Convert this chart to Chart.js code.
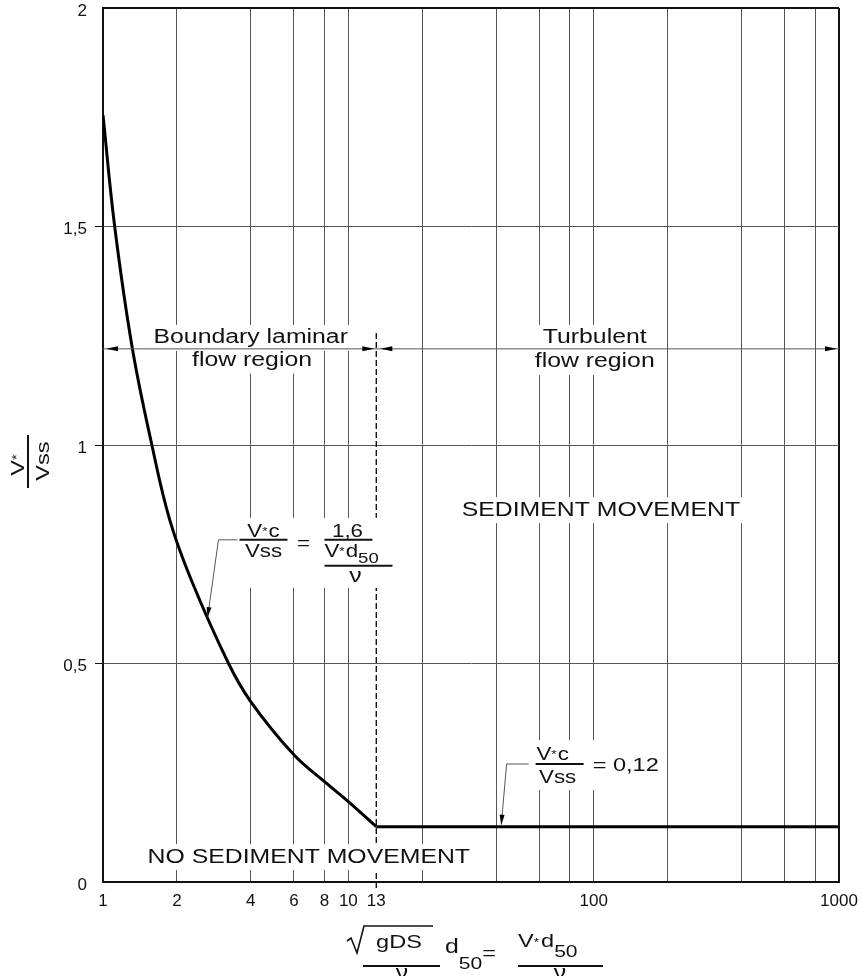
<!DOCTYPE html>
<html>
<head>
<meta charset="utf-8">
<script src="https://cdn.jsdelivr.net/npm/chart.js@4.4.0/dist/chart.umd.min.js"></script>
<style>
  html, body { margin: 0; padding: 0; background: #fff; }
  #wrap { width: 861px; height: 976px; }
</style>
</head>
<body>
<div id="wrap"><canvas id="grafico" width="861" height="976"></canvas></div>
<script>
const curvaX = [1, 1.116, 1.318, 1.582, 1.872, 2.29, 3.25, 4, 6, 8, 10, 13];
const curvaY = [1.755, 1.5, 1.22, 1.0, 0.828, 0.691, 0.5, 0.413, 0.291, 0.2295, 0.184, 0.1265];
// trecho constante na regiao turbulenta
const retaX = [13, 1000];
const retaY = [0.1265, 0.1265];

// linhas de grade e rotulos dos eixos
const linhasX = [1, 2, 4, 6, 8, 10, 13, 20, 40, 60, 80, 100, 200, 400, 600, 800, 1000];
const rotulosX = ['1', '2', '4', '6', '8', '10', '13', '', '', '', '', '100', '', '', '', '', '1000'];
const linhasY = [0, 0.5, 1, 1.5, 2];
const rotulosY = ['0', '0,5', '1', '1,5', '2'];

const limiteX = 13;        // divisao laminar / turbulento
const limiteTopoY = 1.258; // topo da linha tracejada
const setaY = 1.22;        // linha das setas das regioes

const textos = [
    { t: 'Boundary laminar', x: 4, y: 1.245 },
    { t: 'flow region', x: 4.05, y: 1.193 },
    { t: 'Turbulent', x: 101, y: 1.245 },
    { t: 'flow region', x: 101, y: 1.19 },
    { t: 'SEDIMENT MOVEMENT', x: 107, y: 0.851 },
    { t: 'NO SEDIMENT MOVEMENT', x: 6.9, y: 0.057 }
];

const FONTE = '"Liberation Sans", Arial, Helvetica, sans-serif';
const ESTICA = 1.24; // o desenho original e mais largo que alto

function largura(c, s, tam) {
    c.font = tam + 'px ' + FONTE;
    return c.measureText(s).width * ESTICA;
}

// desenha uma sequencia de pedacos de texto [{t, s, dy}] a partir de x (baseline y)
function sequencia(c, pedacos, x, y, alinha) {
    let total = 0;
    pedacos.forEach(p => { total += largura(c, p.t, p.s) + (p.gap || 0); });
    let cx = x;
    if (alinha === 'center') cx = x - total / 2;
    pedacos.forEach(p => {
        c.save();
        c.translate(cx, y + (p.dy || 0));
        c.scale(ESTICA, 1);
        c.font = p.s + 'px ' + FONTE;
        c.textAlign = 'left';
        c.textBaseline = 'alphabetic';
        c.fillStyle = '#111';
        c.fillText(p.t, 0, 0);
        c.restore();
        cx += largura(c, p.t, p.s) + (p.gap || 0);
    });
    return total;
}

function texto(c, s, x, y, tam) {
    c.save();
    c.translate(x, y);
    c.scale(ESTICA, 1);
    c.font = tam + 'px ' + FONTE;
    c.textAlign = 'center';
    c.textBaseline = 'middle';
    c.fillStyle = '#111';
    c.fillText(s, 0, 0);
    c.restore();
}

function linha(c, pts, cor, esp) {
    c.save();
    c.strokeStyle = cor;
    c.lineWidth = esp;
    c.beginPath();
    c.moveTo(pts[0][0], pts[0][1]);
    for (let i = 1; i < pts.length; i++) c.lineTo(pts[i][0], pts[i][1]);
    c.stroke();
    c.restore();
}

function ponta(c, x, y, ang, comp, meia) {
    c.save();
    c.translate(x, y);
    c.rotate(ang);
    c.fillStyle = '#000';
    c.beginPath();
    c.moveTo(0, 0);
    c.lineTo(-comp, -meia);
    c.lineTo(-comp, meia);
    c.closePath();
    c.fill();
    c.restore();
}

function ancoras(chart) {
    const sx = chart.scales.x, sy = chart.scales.y;
    return {
        f1: { x: sx.getPixelForValue(3.6), y: sy.getPixelForValue(0.783) },
        f2: { x: sx.getPixelForValue(58), y: sy.getPixelForValue(0.27) }
    };
}

const anotacoes = {
    id: 'anotacoes',
    beforeDatasetsDraw(chart) {
        const c = chart.ctx, sx = chart.scales.x, sy = chart.scales.y;
        const x13 = sx.getPixelForValue(limiteX);
        c.save();
        c.strokeStyle = '#111';
        c.lineWidth = 1.4;
        c.setLineDash([6, 3]);
        c.beginPath();
        c.moveTo(x13, sy.getPixelForValue(0) + 6);
        c.lineTo(x13, sy.getPixelForValue(limiteTopoY));
        c.stroke();
        c.restore();

        // recortes brancos das linhas de grade atras dos textos
        c.save();
        c.fillStyle = '#fff';
        textos.forEach(o => {
            const w = largura(c, o.t, 20);
            c.fillRect(sx.getPixelForValue(o.x) - w / 2 - 6, sy.getPixelForValue(o.y) - 13, w + 12, 26);
        });
        const a = ancoras(chart);
        c.fillRect(a.f1.x + 1, a.f1.y - 22, 157, 70);
        c.fillRect(a.f2.x - 6, a.f2.y - 24, 136, 50);
        c.restore();
    },
    afterDatasetsDraw(chart) {
        const c = chart.ctx, sx = chart.scales.x, sy = chart.scales.y;
        const area = chart.chartArea;
        const x1 = sx.getPixelForValue(1), x13 = sx.getPixelForValue(limiteX), xf = sx.getPixelForValue(1000);
        const ys = sy.getPixelForValue(setaY);

        // linha das regioes com setas
        linha(c, [[x1, ys], [xf, ys]], '#555', 1);
        ponta(c, x1 + 3, ys, Math.PI, 12, 2.5);
        ponta(c, x13 - 2, ys, 0, 12, 2.5);
        ponta(c, x13 + 4, ys, Math.PI, 12, 2.5);
        ponta(c, xf - 2, ys, 0, 12, 2.5);

        textos.forEach(o => texto(c, o.t, sx.getPixelForValue(o.x), sy.getPixelForValue(o.y), 20));

        // formula da regiao laminar
        const a = ancoras(chart);
        let x0 = a.f1.x, y0 = a.f1.y;
        const tx = sx.getPixelForValue(2.67), ty = sy.getPixelForValue(0.606);
        linha(c, [[tx, ty], [x0 - 21, y0], [x0 - 2, y0]], '#555', 1);
        ponta(c, tx, ty, Math.atan2(ty - y0, tx - (x0 - 21)), 10, 2.5);
        sequencia(c, [{ t: 'V', s: 18 }, { t: '*', s: 11, dy: -2, gap: 1 }, { t: 'c', s: 18 }], x0 + 24, y0 - 3, 'center');
        linha(c, [[x0, y0], [x0 + 48, y0]], '#111', 2);
        sequencia(c, [{ t: 'Vss', s: 18 }], x0 + 24, y0 + 17, 'center');
        texto(c, '=', x0 + 64, y0 + 4, 18);
        sequencia(c, [{ t: '1,6', s: 18 }], x0 + 108, y0 - 3, 'center');
        linha(c, [[x0 + 85, y0], [x0 + 133, y0]], '#111', 2);
        sequencia(c, [{ t: 'V', s: 18 }, { t: '*', s: 11, dy: -2, gap: 1 }, { t: 'd', s: 18 }, { t: '50', s: 15, dy: 6 }], x0 + 85, y0 + 17, 'left');
        linha(c, [[x0 + 85, y0 + 26], [x0 + 153, y0 + 26]], '#111', 2);
        sequencia(c, [{ t: 'ν', s: 20 }], x0 + 116, y0 + 42, 'center');

        // formula da regiao turbulenta
        x0 = a.f2.x; y0 = a.f2.y;
        const ux = sx.getPixelForValue(42), uy = sy.getPixelForValue(0.1265) - 2;
        linha(c, [[ux, uy], [x0 - 29, y0], [x0 - 7, y0]], '#555', 1);
        ponta(c, ux, uy, Math.atan2(uy - y0, ux - (x0 - 29)), 10, 2.5);
        sequencia(c, [{ t: 'V', s: 18 }, { t: '*', s: 11, dy: -2, gap: 1 }, { t: 'c', s: 18 }], x0 + 17, y0 - 4, 'center');
        linha(c, [[x0, y0], [x0 + 48, y0]], '#111', 2);
        sequencia(c, [{ t: 'Vss', s: 18 }], x0 + 22, y0 + 19, 'center');
        sequencia(c, [{ t: '= 0,12', s: 19 }], x0 + 57, y0 + 7, 'left');

        // titulo do eixo y (fracao girada)
        c.save();
        c.translate(28, (area.top + area.bottom) / 2 + 16);
        c.rotate(-Math.PI / 2);
        linha(c, [[-27, 0], [26, 0]], '#111', 2);
        sequencia(c, [{ t: 'V', s: 19 }, { t: '*', s: 12, dy: -3 }], -4, -4, 'center');
        sequencia(c, [{ t: 'Vss', s: 19 }], 0, 21, 'center');
        c.restore();

        // titulo do eixo x
        const bx = 350, by = area.bottom + 84;
        linha(c, [[bx - 3, by - 25], [bx + 1, by - 28], [bx + 7, by - 13], [bx + 14, by - 40], [bx + 83, by - 40]], '#111', 1.6);
        sequencia(c, [{ t: 'gDS', s: 19 }], bx + 49, by - 18, 'center');
        linha(c, [[bx + 13, by], [bx + 90, by]], '#111', 2);
        sequencia(c, [{ t: 'ν', s: 20 }], bx + 52, by + 13, 'center');
        sequencia(c, [{ t: 'd', s: 20 }, { t: '50', s: 17, dy: 16 }, { t: '=', s: 19, dy: 6 }], bx + 95, by - 13, 'left');
        sequencia(c, [{ t: 'V', s: 19 }, { t: '*', s: 11, dy: -1, gap: 2 }, { t: 'd', s: 19 }, { t: '50', s: 17, dy: 10 }], bx + 168, by - 19, 'left');
        linha(c, [[bx + 168, by], [bx + 253, by]], '#111', 2);
        sequencia(c, [{ t: 'ν', s: 20 }], bx + 210, by + 13, 'center');
    }
};

const pontosCurva = curvaX.map((x, i) => ({ x: x, y: curvaY[i] }));
const pontosReta = retaX.map((x, i) => ({ x: x, y: retaY[i] }));

const borda = '#111';
const grade = '#555';

const ctx = document.getElementById('grafico');
const grafico = new Chart(ctx, {
    type: 'scatter',
    data: {
        datasets: [{
            data: pontosCurva,
            showLine: true,
            borderColor: '#000',
            borderWidth: 3,
            pointRadius: 0,
            tension: 0.4,
            fill: false
        }, {
            data: pontosReta,
            showLine: true,
            borderColor: '#000',
            borderWidth: 3,
            pointRadius: 0,
            fill: false
        }]
    },
    options: {
        responsive: false,
        animation: false,
        devicePixelRatio: 1,
        layout: { padding: { top: 8, right: 22, left: 0, bottom: 0 } },
        plugins: { legend: { display: false }, tooltip: { enabled: false } },
        scales: {
            x: {
                type: 'logarithmic',
                min: 1,
                max: 1000,
                afterBuildTicks: s => { s.ticks = linhasX.map(v => ({ value: v })); },
                afterFit: s => { s.height = 94; s.paddingLeft = 0; s.paddingRight = 0; },
                ticks: {
                    autoSkip: false,
                    maxRotation: 0,
                    padding: 9,
                    color: '#111',
                    font: { family: FONTE, size: 17 },
                    callback: (v, i) => rotulosX[i]
                },
                grid: {
                    drawTicks: false,
                    color: c => {
                        const v = linhasX[c.index];
                        if (v === limiteX) return 'rgba(0,0,0,0)';
                        return v === 1000 ? borda : grade;
                    },
                    lineWidth: c => (linhasX[c.index] === 1000 ? 2 : 1)
                },
                border: { color: borda, width: 2 }
            },
            y: {
                min: 0,
                max: 2,
                afterBuildTicks: s => { s.ticks = linhasY.map(v => ({ value: v })); },
                afterFit: s => { s.width = 103; s.paddingTop = 0; s.paddingBottom = 0; },
                ticks: {
                    padding: 8,
                    labelOffset: 3,
                    color: '#111',
                    font: { family: FONTE, size: 17 },
                    callback: (v, i) => rotulosY[i]
                },
                grid: {
                    tickLength: 8,
                    color: c => (linhasY[c.index] === 2 ? borda : grade),
                    lineWidth: c => (linhasY[c.index] === 2 ? 2 : 1),
                    tickColor: c => (linhasY[c.index] === 0 || linhasY[c.index] === 2 ? 'rgba(0,0,0,0)' : borda)
                },
                border: { color: borda, width: 2 }
            }
        }
    },
    plugins: [anotacoes]
});
</script>
</body>
</html>
